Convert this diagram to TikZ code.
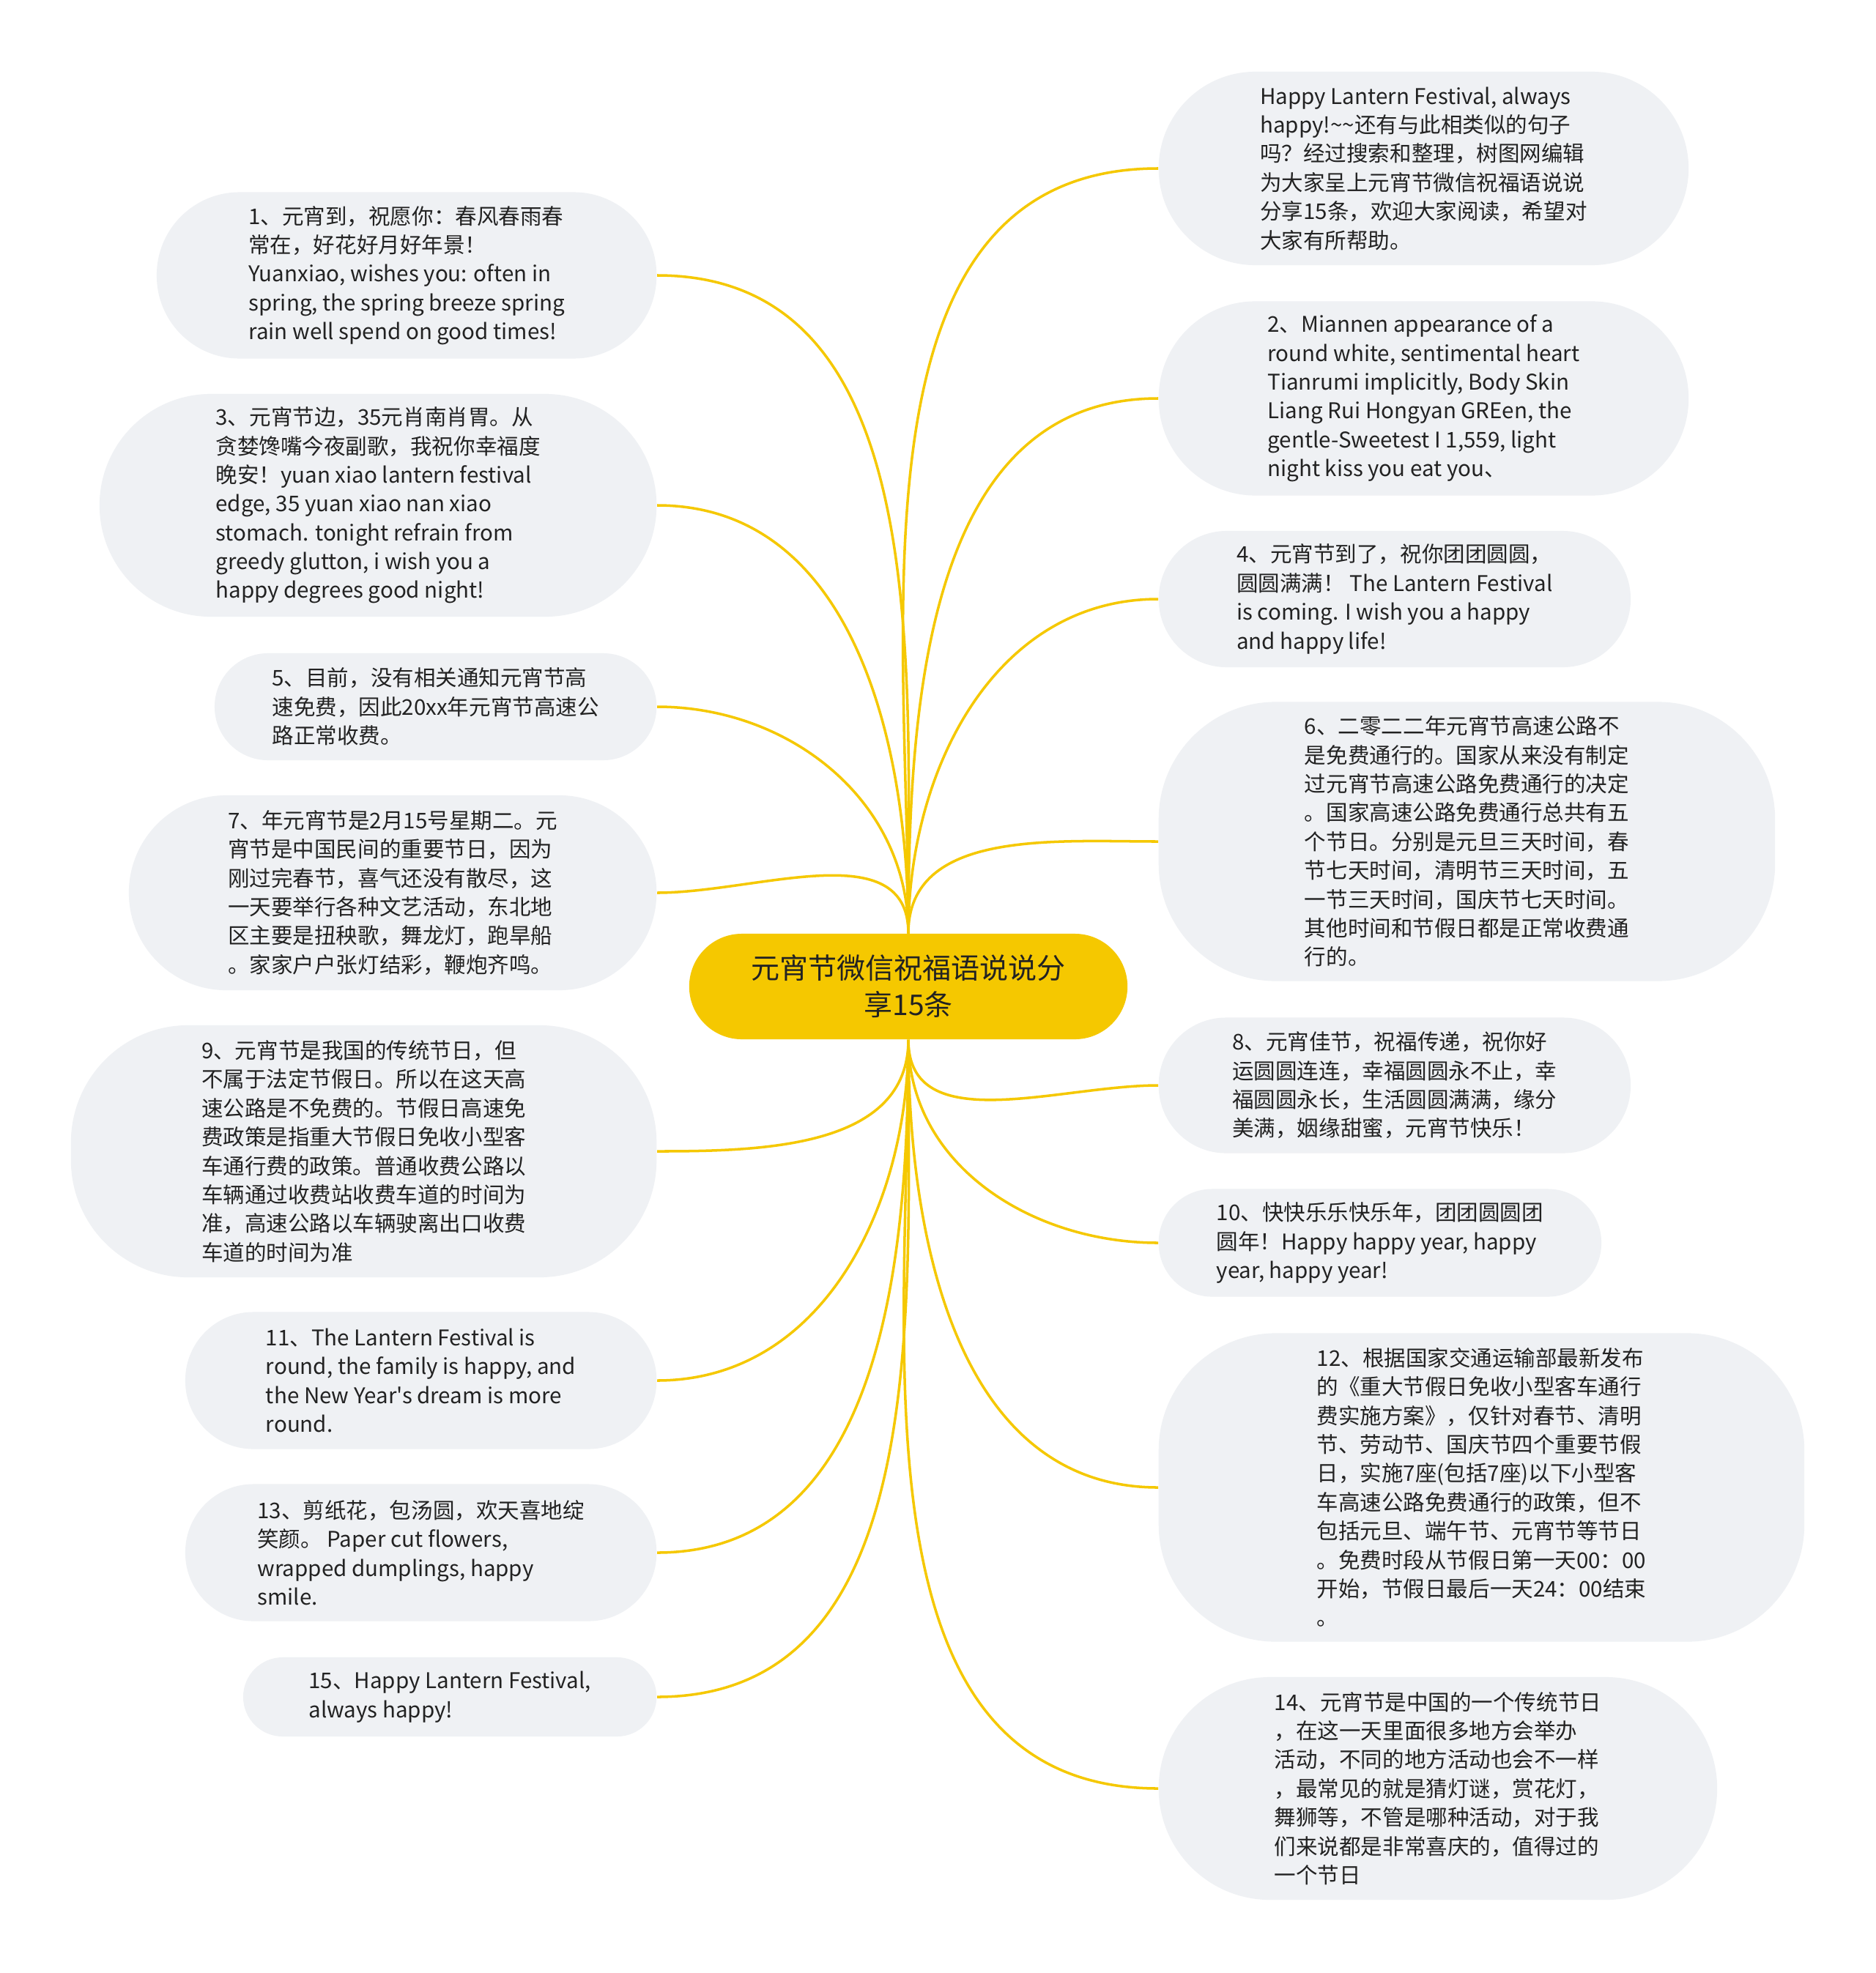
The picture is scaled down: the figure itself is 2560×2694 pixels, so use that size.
\documentclass[tikz,border=0pt]{standalone}
\usepackage{fontspec}
\newfontfamily\notefont{Noto Sans CJK SC}
\usetikzlibrary{positioning}
\definecolor{lantern}{RGB}{245,200,0}
\definecolor{notefill}{RGB}{239,241,244}
\definecolor{ink}{RGB}{34,34,34}

\begin{document}
\begin{tikzpicture}[
  x=0.01cm, y=-0.01cm,
  note/.style={rectangle, rounded corners=#1, fill=notefill, text=ink, inner sep=0pt,
    align=left, font=\notefont\fontsize{8.4}{11.2}\selectfont},
  leftnote/.style={note=#1, anchor=east},
  rightnote/.style={note=#1, anchor=west},
  root/.style={rectangle, rounded corners=0.72cm, fill=lantern, text=ink, align=center,
    minimum width=5.98cm, minimum height=1.44cm, font=\notefont\fontsize{11.1}{14.2}\selectfont},
  branch/.style={draw=lantern, line width=1pt}
]
\fill[white] (0,0) rectangle (2560,2694);
\useasboundingbox (0,0) rectangle (2560,2694);

\node[root] (root) at (1240,1347) {元宵节微信祝福语说说分\\享15条};

\node[leftnote=1.13cm, minimum width=6.82cm, minimum height=2.27cm] (wish1) at (897,376) {1、元宵到，祝愿你：春风春雨春\\
常在，好花好月好年景！\\
Yuanxiao, wishes you: often in\\
spring, the spring breeze spring\\
rain well spend on good times!};
\node[leftnote=1.52cm, minimum width=7.60cm, minimum height=3.04cm] (wish3) at (897,690) {3、元宵节边，35元肖南肖胃。从\\
贪婪馋嘴今夜副歌，我祝你幸福度\\
晚安！yuan xiao lantern festival\\
edge, 35 yuan xiao nan xiao\\
stomach. tonight refrain from\\
greedy glutton, i wish you a\\
happy degrees good night!};
\node[leftnote=0.73cm, minimum width=6.03cm, minimum height=1.46cm] (wish5) at (897,965) {5、目前，没有相关通知元宵节高\\
速免费，因此20xx年元宵节高速公\\
路正常收费。};
\node[leftnote=1.33cm, minimum width=7.20cm, minimum height=2.66cm] (wish7) at (897,1219) {7、年元宵节是2月15号星期二。元\\
宵节是中国民间的重要节日，因为\\
刚过完春节，喜气还没有散尽，这\\
一天要举行各种文艺活动，东北地\\
区主要是扭秧歌，舞龙灯，跑旱船\\
。家家户户张灯结彩，鞭炮齐鸣。};
\node[leftnote=1.6cm, minimum width=7.99cm, minimum height=3.44cm] (wish9) at (897,1572) {9、元宵节是我国的传统节日，但\\
不属于法定节假日。所以在这天高\\
速公路是不免费的。节假日高速免\\
费政策是指重大节假日免收小型客\\
车通行费的政策。普通收费公路以\\
车辆通过收费站收费车道的时间为\\
准，高速公路以车辆驶离出口收费\\
车道的时间为准};
\node[leftnote=0.93cm, minimum width=6.43cm, minimum height=1.87cm] (wish11) at (897,1885) {11、The Lantern Festival is\\
round, the family is happy, and\\
the New Year's dream is more\\
round.};
\node[leftnote=0.93cm, minimum width=6.43cm, minimum height=1.87cm] (wish13) at (897,2120) {13、剪纸花，包汤圆，欢天喜地绽\\
笑颜。 Paper cut flowers,\\
wrapped dumplings, happy\\
smile.};
\node[leftnote=0.54cm, minimum width=5.64cm, minimum height=1.08cm] (wish15) at (897,2317) {15、Happy Lantern Festival,\\
always happy!};

\node[rightnote=1.32cm, minimum width=7.23cm, minimum height=2.64cm] (intro) at (1581,230) {Happy Lantern Festival, always\\
happy!\textasciitilde\textasciitilde 还有与此相类似的句子\\
吗？经过搜索和整理，树图网编辑\\
为大家呈上元宵节微信祝福语说说\\
分享15条，欢迎大家阅读，希望对\\
大家有所帮助。};
\node[rightnote=1.32cm, minimum width=7.23cm, minimum height=2.65cm] (wish2) at (1581,544) {2、Miannen appearance of a\\
round white, sentimental heart\\
Tianrumi implicitly, Body Skin\\
Liang Rui Hongyan GREen, the\\
gentle-Sweetest I 1,559, light\\
night kiss you eat you、};
\node[rightnote=0.93cm, minimum width=6.44cm, minimum height=1.86cm] (wish4) at (1581,818) {4、元宵节到了，祝你团团圆圆，\\
圆圆满满！ The Lantern Festival\\
is coming. I wish you a happy\\
and happy life!};
\node[rightnote=1.6cm, minimum width=8.41cm, minimum height=3.81cm] (wish6) at (1581,1149) {6、二零二二年元宵节高速公路不\\
是免费通行的。国家从来没有制定\\
过元宵节高速公路免费通行的决定\\
。国家高速公路免费通行总共有五\\
个节日。分别是元旦三天时间，春\\
节七天时间，清明节三天时间，五\\
一节三天时间，国庆节七天时间。\\
其他时间和节假日都是正常收费通\\
行的。};
\node[rightnote=0.92cm, minimum width=6.44cm, minimum height=1.85cm] (wish8) at (1581,1482) {8、元宵佳节，祝福传递，祝你好\\
运圆圆连连，幸福圆圆永不止，幸\\
福圆圆永长，生活圆圆满满，缘分\\
美满，姻缘甜蜜，元宵节快乐！};
\node[rightnote=0.73cm, minimum width=6.04cm, minimum height=1.47cm] (wish10) at (1581,1697) {10、快快乐乐快乐年，团团圆圆团\\
圆年！Happy happy year, happy\\
year, happy year!};
\node[rightnote=1.6cm, minimum width=8.81cm, minimum height=4.21cm] (wish12) at (1581,2031) {12、根据国家交通运输部最新发布\\
的《重大节假日免收小型客车通行\\
费实施方案》，仅针对春节、清明\\
节、劳动节、国庆节四个重要节假\\
日，实施7座(包括7座)以下小型客\\
车高速公路免费通行的政策，但不\\
包括元旦、端午节、元宵节等节日\\
。免费时段从节假日第一天00：00\\
开始，节假日最后一天24：00结束\\
。};
\node[rightnote=1.52cm, minimum width=7.62cm, minimum height=3.04cm] (wish14) at (1581,2442) {14、元宵节是中国的一个传统节日\\
，在这一天里面很多地方会举办\\
活动，不同的地方活动也会不一样\\
，最常见的就是猜灯谜，赏花灯，\\
舞狮等，不管是哪种活动，对于我\\
们来说都是非常喜庆的，值得过的\\
一个节日};

\foreach \n in {wish1,wish3,wish5,wish7}
  \draw[branch] (root.north) to[out=90, in=0] (\n.east);
\foreach \n in {wish9,wish11,wish13,wish15}
  \draw[branch] (root.south) to[out=-90, in=0] (\n.east);
\foreach \n in {intro,wish2,wish4,wish6}
  \draw[branch] (root.north) to[out=90, in=180] (\n.west);
\foreach \n in {wish8,wish10,wish12,wish14}
  \draw[branch] (root.south) to[out=-90, in=180] (\n.west);
\end{tikzpicture}
\end{document}
